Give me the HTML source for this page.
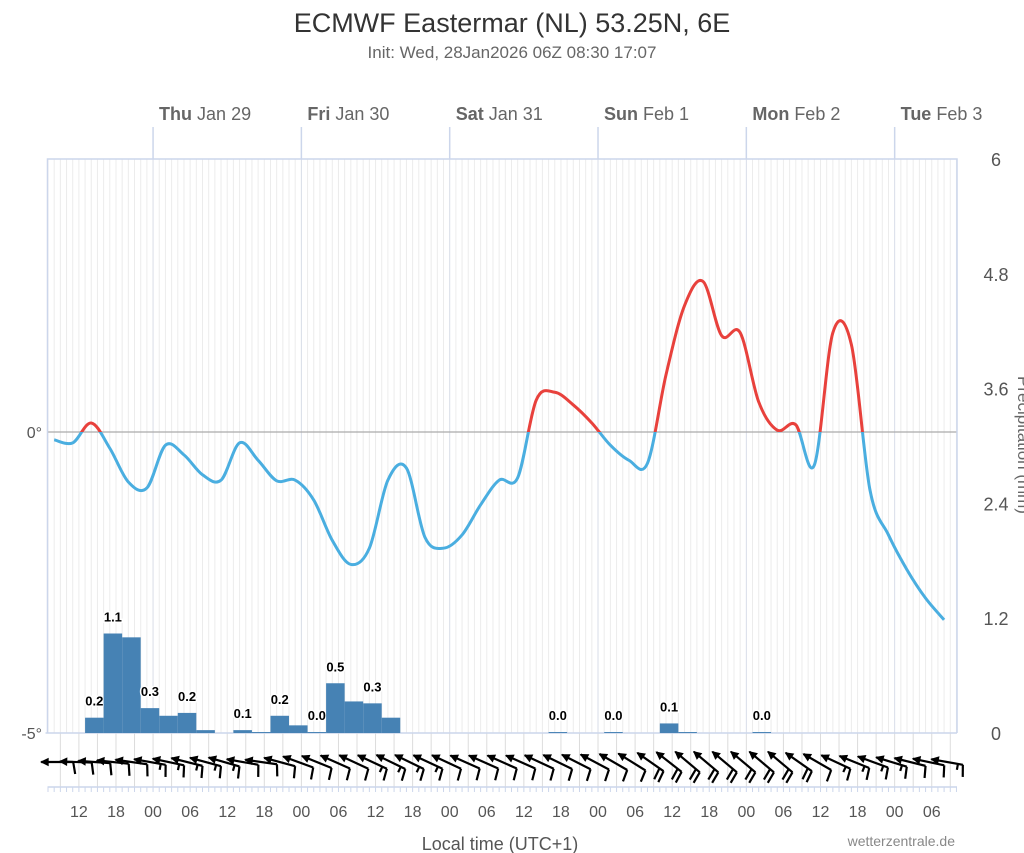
<!DOCTYPE html>
<html><head><meta charset="utf-8"><style>
body{margin:0;background:#fff}
svg{display:block;font-family:"Liberation Sans","DejaVu Sans",sans-serif}
</style></head><body>
<svg id="chart" width="1024" height="853" viewBox="0 0 1024 853">
<text x="512" y="32" text-anchor="middle" font-size="27" fill="#333">ECMWF Eastermar (NL) 53.25N, 6E</text>
<text x="512" y="58" text-anchor="middle" font-size="17" fill="#666">Init: Wed, 28Jan2026 06Z 08:30 17:07</text>
<g id="grid"></g>
<g id="bars"></g>
<g id="temp"></g>
<g id="wind"></g>
<g id="axes"></g>
<text x="500" y="850" text-anchor="middle" font-size="18" fill="#555">Local time (UTC+1)</text>
<text x="955" y="846" text-anchor="end" font-size="14" fill="#888">wetterzentrale.de</text>
<text transform="translate(1018,445) rotate(90)" text-anchor="middle" font-size="17" fill="#666">Precipitation (mm)</text>
</svg>
<script>
// hours from Wed 28 Jan 07:00 local
const tempHours0 = 1, tempStep = 3;
const tempValues = [-0.13,-0.18,0.15,-0.27,-0.83,-0.93,-0.22,-0.38,-0.71,-0.8,
 -0.18,-0.47,-0.81,-0.8,-1.13,-1.8,-2.2,-1.93,-0.8,-0.6,
 -1.75,-1.93,-1.71,-1.21,-0.8,-0.76,0.53,0.66,0.45,0.15,
 -0.22,-0.47,-0.52,0.95,2.1,2.5,1.6,1.65,0.5,0.03,
 0.12,-0.55,1.65,1.45,-0.96,-1.71,-2.29,-2.76,-3.12];
const precipHours0 = 6;
const precipValues = [0.16,1.04,1.0,0.26,0.18,0.21,0.03,0,0.03,0.01,0.18,0.08,0.01,0.52,0.33,0.31,0.16,
 0,0,0,0,0,0,0,0,0.01,0,0,0.01,0,0,0.1,0.01,0,0,0,0.01];
const precipLabels = ["0.2","1.1",null,"0.3",null,"0.2",null,null,"0.1",null,"0.2",null,"0.0","0.5",null,"0.3",null,
 null,null,null,null,null,null,null,null,"0.0",null,null,"0.0",null,null,"0.1",null,null,null,null,"0.0"];
const windDir = [180,178,176,174,172,170,168,166,165,164,170,172,165,160,158,156,155,155,154,154,
 155,155,156,156,156,156,155,154,153,152,150,148,145,142,140,140,140,140,140,140,
 145,150,155,158,160,163,166,168,170];
const windSpeed = [10,10,10,10,10,15,15,15,15,15,10,10,10,10,10,10,10,15,15,15,
 15,10,10,10,10,10,10,10,10,10,10,10,20,20,20,20,20,20,20,20,
 20,10,15,15,15,15,10,10,15];
const dayLabels = [["Thu"," Jan 29"],["Fri"," Jan 30"],["Sat"," Jan 31"],["Sun"," Feb 1"],["Mon"," Feb 2"],["Tue"," Feb 3"]];
const hourTickLabels = ["12","18","00","06","12","18","00","06","12","18","00","06","12","18","00","06","12","18","00","06","12","18","00","06"];
const tempTicks = [0,-5];
const precipTicks = [0,1.2,2.4,3.6,4.8,6];

const X0=47.5, X1=957, TOP=159, BOT=733, PXH=6.18;
const xH = h => 48 + h*PXH;
const yT = t => 432 - t*60.2;
const yP = p => BOT - p*(BOT-TOP)/6;
const NS="http://www.w3.org/2000/svg";
function mk(tag,attrs,parent){const e=document.createElementNS(NS,tag);for(const k in attrs)e.setAttribute(k,attrs[k]);parent.appendChild(e);return e;}
const grid=document.getElementById('grid'),bars=document.getElementById('bars'),temp=document.getElementById('temp'),wind=document.getElementById('wind'),axes=document.getElementById('axes');

for(let h=0; xH(h)<X1; h++){
  const x=xH(h); const day=((h+7)%24)===0;
  const l=mk('line',{x1:x,x2:x,y1:TOP,y2:BOT,stroke:day?'#d8dde8':'#ececec','stroke-width':1},grid);
  
  
}
for(let h=2; xH(h)<X1+10; h+=3){
  const l=mk('line',{x1:xH(h),x2:xH(h),y1:BOT,y2:787,stroke:'#dcdcdc','stroke-width':1},grid);
  
  
}
const z=mk('line',{x1:X0,x2:X1,y1:yT(0),y2:yT(0),stroke:'#aaa','stroke-width':1.2},grid);


const fr=mk('path',{d:`M${X0},${BOT}V${TOP}H${X1}V${BOT}`,fill:'none',stroke:'#ccd6eb','stroke-width':1.5},grid);


mk('line',{x1:X0-2,x2:X1,y1:BOT,y2:BOT,stroke:'#ccd6eb','stroke-width':1.5},grid);

precipValues.forEach((v,i)=>{
  const h=precipHours0+i*3, x=xH(h), w=3*PXH;
  if(v>0){
    const r=mk('rect',{x:x,y:yP(v),width:w,height:BOT-yP(v),fill:'#4682b4'},bars);
    
    
  }
  if(precipLabels[i]!==null){
    const t=mk('text',{x:x+w/2,y:yP(v)-12,'text-anchor':'middle','font-size':13,'font-weight':'bold',fill:'#000',stroke:'#fff','stroke-width':3,'paint-order':'stroke'},bars);
    t.textContent=precipLabels[i];
    
    
  }
});

const pts=tempValues.map((v,i)=>[xH(tempHours0+i*tempStep),yT(v)]);
let d=`M${pts[0][0]},${pts[0][1]}`;
for(let i=0;i<pts.length-1;i++){
  const p0=pts[i-1]||pts[i],p1=pts[i],p2=pts[i+1],p3=pts[i+2]||p2;
  const c1=[p1[0]+(p2[0]-p0[0])/6,p1[1]+(p2[1]-p0[1])/6],c2=[p2[0]-(p3[0]-p1[0])/6,p2[1]-(p3[1]-p1[1])/6];
  d+=`C${c1[0]},${c1[1]} ${c2[0]},${c2[1]} ${p2[0]},${p2[1]}`;
}
const defs=mk('defs',{},temp);
const ca=mk('clipPath',{id:'above'},defs);mk('rect',{x:0,y:0,width:1024,height:yT(0)},ca);
const cb=mk('clipPath',{id:'below'},defs);mk('rect',{x:0,y:yT(0),width:1024,height:853},cb);
const lb=mk('path',{d:d,fill:'none',stroke:'#4aaee0','stroke-width':3,'clip-path':'url(#below)','stroke-linejoin':'round'},temp);


const la=mk('path',{d:d,fill:'none',stroke:'#e8413c','stroke-width':3,'clip-path':'url(#above)','stroke-linejoin':'round'},temp);



windDir.forEach((dir,i)=>{
  const cx=xH(tempHours0+i*tempStep)+3, cy=762;
  const a=dir*Math.PI/180, ux=Math.cos(a), uy=-Math.sin(a), L=16;
  const hx=cx+ux*L, hy=cy+uy*L, tx=cx-ux*L, ty=cy-uy*L;
  const g=mk('g',{stroke:'#000','stroke-width':2.2,fill:'none'},wind);
  
  
  mk('line',{x1:tx,y1:ty,x2:hx,y2:hy},g);
  const px=-uy, py=ux;
  mk('path',{d:`M${hx},${hy}L${hx-ux*7+px*3.5},${hy-uy*7+py*3.5}L${hx-ux*7-px*3.5},${hy-uy*7-py*3.5}Z`,fill:'#000','stroke-width':1},g);
  let sx=px, sy=py; if(sy<0){sx=-sx;sy=-sy;}
  const s=windSpeed[i]; let full=Math.floor(s/10), half=(s%10)>=5;
  let k=0;
  for(let f=0;f<full;f++,k++){const bx=tx+ux*k*5,by=ty+uy*k*5;mk('line',{x1:bx,y1:by,x2:bx+sx*12-ux*2,y2:by+sy*12-uy*2},g);}
  if(half){const bx=tx+ux*k*5,by=ty+uy*k*5;mk('line',{x1:bx,y1:by,x2:bx+sx*6,y2:by+sy*6},g);}
});

mk('line',{x1:X0,x2:X1,y1:787,y2:787,stroke:'#ccd6eb','stroke-width':1.5},axes);
for(let h=0; xH(h)<X1; h++){mk('line',{x1:xH(h),x2:xH(h),y1:787,y2:792,stroke:'#ccd6eb'},axes);}
hourTickLabels.forEach((s,i)=>{
  const h=5+i*6;
  if(xH(h)>X1) return;
  const t=mk('text',{x:xH(h),y:817,'text-anchor':'middle','font-size':16,fill:'#555'},axes);
  t.textContent=s;
  
  
});
dayLabels.forEach((dl,i)=>{
  const x=xH(17+24*i);
  mk('line',{x1:x,x2:x,y1:127,y2:TOP,stroke:'#ccd6eb','stroke-width':1.5},axes);
  const t=mk('text',{x:x+6,y:120,'font-size':18,fill:'#666'},axes);
  
  
  const b=document.createElementNS(NS,'tspan');b.setAttribute('font-weight','bold');b.textContent=dl[0];t.appendChild(b);
  const r=document.createElementNS(NS,'tspan');r.textContent=dl[1];t.appendChild(r);
});
tempTicks.forEach(v=>{
  const t=mk('text',{x:42,y:yT(v)+6,'text-anchor':'end','font-size':16,fill:'#555'},axes);
  t.textContent=v+'°';
  
  
});
precipTicks.forEach(v=>{
  const t=mk('text',{x:996,y:yP(v)+7,'text-anchor':'middle','font-size':18,fill:'#555'},axes);
  t.textContent=String(v);
  
  
});
</script>
</body></html>
